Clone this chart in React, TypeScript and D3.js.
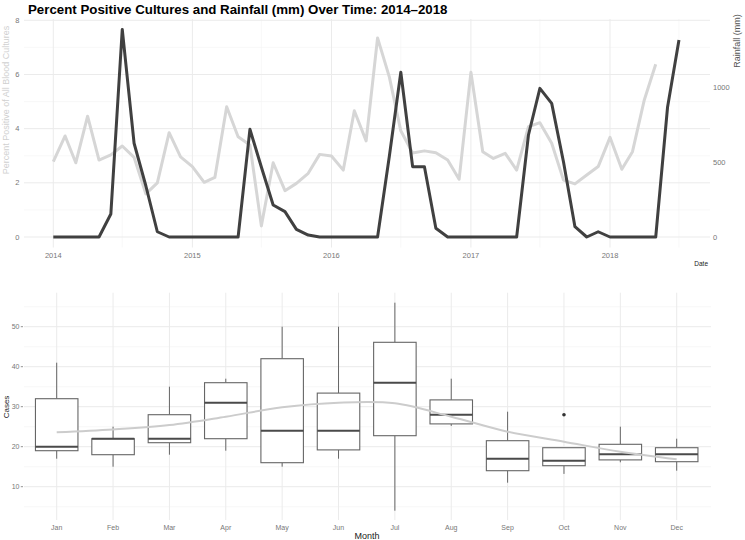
import React from "react";
import * as d3 from "d3";

// ---------- Top panel data ----------
const startYear = 2014;
const percentPositive = [
  2.78, 3.73, 2.74, 4.46, 2.84, 3.03, 3.36, 2.94, 1.59, 2.0, 3.85, 2.96,
  2.6, 2.02, 2.2, 4.81, 3.7, 3.4, 0.41, 2.74, 1.71, 1.98, 2.35, 3.05,
  2.99, 2.47, 4.66, 3.55, 7.35, 5.9, 3.92, 3.1, 3.18, 3.11, 2.84, 2.13,
  6.08, 3.15, 2.9, 3.09, 2.47, 4.07, 4.22, 3.46, 2.1, 1.96, 2.29, 2.6,
  3.68, 2.5, 3.15, 5.06, 6.38,
];
const rainfall = [
  0, 0, 0, 0, 0, 153, 1384, 625, 340, 35, 0, 0,
  0, 0, 0, 0, 0, 718, 467, 213, 169, 51, 13, 0,
  0, 0, 0, 0, 0, 540, 1098, 469, 469, 58, 0, 0,
  0, 0, 0, 0, 0, 680, 991, 891, 500, 69, 0, 35,
  0, 0, 0, 0, 0, 865, 1313,
];
const yearTicks = [2014, 2015, 2016, 2017, 2018];
const pctTicks = [0, 2, 4, 6, 8];
const pctMinor = [1, 3, 5, 7];
const rainTicks = [0, 500, 1000];

// ---------- Bottom panel data ----------
const months = ["Jan", "Feb", "Mar", "Apr", "May", "Jun", "Jul", "Aug", "Sep", "Oct", "Nov", "Dec"];
const whiskerLow = [17, 15, 18, 19, 15, 17, 4, 25.2, 11, 13.2, 16.1, 14];
const q1 = [19, 18, 21, 22, 16, 19.2, 22.75, 25.7, 14, 15.25, 16.7, 16.25];
const medians = [20, 22, 22, 31, 24, 24, 36, 28, 17, 16.5, 18.1, 18.1];
const q3 = [32, 22, 28, 36, 42, 33.4, 46.1, 31.7, 21.5, 19.75, 20.6, 19.75];
const whiskerHigh = [41, 25, 35, 37, 50, 50, 56, 37, 28.75, 19.75, 25, 22];
const outlierMonths = ["Oct"];
const outlierValues = [28];
const smoothValues = [23.6, 24.3, 25.4, 27.5, 29.85, 31, 30.85, 27.5, 23.75, 21.25, 18.75, 16.85];
const casesTicks = [10, 20, 30, 40, 50];
const casesMinor = [5, 15, 25, 35, 45, 55];

const FONT = "'Liberation Sans', Arial, Helvetica, sans-serif";
const GRID = "#ebebeb";
const GRID_MINOR = "#f4f4f4";
const TICK = "#777777";

export default function App() {
  // ---- top scales ----
  const tL = 24, tR = 710, tTop = 19, tBot = 247.5;
  const x = d3.scaleTime().domain([new Date(2014, 0, 1), new Date(2018, 0, 1)]).range([53.3, 610]);
  const yPct = d3.scaleLinear().domain([0, 8]).range([237, 20.3]);
  const yRain = d3.scaleLinear().domain([0, 1000]).range([237, 87]);
  const pctData = percentPositive.map((v, i) => ({ d: new Date(startYear, i, 1), v }));
  const rainData = rainfall.map((v, i) => ({ d: new Date(startYear, i, 1), v }));
  const pctLine = d3.line<{ d: Date; v: number }>().x((p) => x(p.d)).y((p) => yPct(p.v));
  const rainLine = d3.line<{ d: Date; v: number }>().x((p) => x(p.d)).y((p) => yRain(p.v));
  const midYears = [2014, 2015, 2016, 2017, 2018].map((y) => new Date(y, 6, 1));

  // ---- bottom scales ----
  const bL = 24, bR = 711, bTop = 292.7, bBot = 520;
  const xb = d3.scalePoint<string>().domain(months).range([56.7, 676.7]);
  const yb = d3.scaleLinear().domain([0, 10]).range([526.7, 486.7]);
  const boxW = 42.5;
  const smoothLine = d3
    .line<number>()
    .x((_, i) => xb(months[i]) as number)
    .y((v) => yb(v))
    .curve(d3.curveCatmullRom.alpha(0.5));

  return (
    <svg
      width={745}
      height={540}
      viewBox="0 0 745 540"
      style={{ position: "fixed", left: 0, top: 0, background: "#fff", fontFamily: FONT }}
    >
      <rect x={0} y={0} width={745} height={540} fill="#fff" />
      {/* ================= TOP PANEL ================= */}
      <text x={28} y={13.5} fontSize={13.3} fontWeight="bold" fill="#000">
        Percent Positive Cultures and Rainfall (mm) Over Time: 2014–2018
      </text>
      {/* minor grid */}
      {pctMinor.map((t) => (
        <line key={"pm" + t} x1={tL} x2={tR} y1={yPct(t)} y2={yPct(t)} stroke={GRID_MINOR} strokeWidth={0.6} />
      ))}
      {midYears.map((d, i) => (
        <line key={"xm" + i} x1={x(d)} x2={x(d)} y1={tTop} y2={tBot} stroke={GRID_MINOR} strokeWidth={0.6} />
      ))}
      {/* major grid */}
      {pctTicks.map((t) => (
        <line key={"p" + t} x1={tL} x2={tR} y1={yPct(t)} y2={yPct(t)} stroke={GRID} strokeWidth={1} />
      ))}
      {yearTicks.map((yr) => (
        <line key={"x" + yr} x1={x(new Date(yr, 0, 1))} x2={x(new Date(yr, 0, 1))} y1={tTop} y2={tBot} stroke={GRID} strokeWidth={1} />
      ))}
      {/* lines */}
      <path d={pctLine(pctData) || ""} fill="none" stroke="#d6d6d6" strokeWidth={3} strokeLinejoin="round" />
      <path d={rainLine(rainData) || ""} fill="none" stroke="#404040" strokeWidth={3} strokeLinejoin="round" />
      {/* left ticks */}
      {pctTicks.map((t) => (
        <text key={"pl" + t} x={19.5} y={yPct(t)} dy="0.35em" textAnchor="end" fontSize={7.5} fill={TICK}>
          {t}
        </text>
      ))}
      {/* right ticks */}
      {rainTicks.map((t) => (
        <text key={"rl" + t} x={713} y={yRain(t)} dy="0.35em" textAnchor="start" fontSize={7.5} fill={TICK}>
          {t}
        </text>
      ))}
      {/* x ticks */}
      {yearTicks.map((yr) => (
        <text key={"xl" + yr} x={x(new Date(yr, 0, 1))} y={255} dy="0.35em" textAnchor="middle" fontSize={7.5} fill={TICK}>
          {yr}
        </text>
      ))}
      <text x={708} y={265.5} textAnchor="end" fontSize={6.5} fill="#222">
        Date
      </text>
      <text transform="translate(9,100) rotate(-90)" textAnchor="middle" fontSize={9} fill="#d0d0d0">
        Percent Positive of All Blood Cultures
      </text>
      <text transform="translate(740,41) rotate(-90)" textAnchor="middle" fontSize={9} fill="#555">
        Rainfall (mm)
      </text>

      {/* ================= BOTTOM PANEL ================= */}
      {casesMinor.map((t) => (
        <line key={"cm" + t} x1={bL} x2={bR} y1={yb(t)} y2={yb(t)} stroke={GRID_MINOR} strokeWidth={0.6} />
      ))}
      {casesTicks.map((t) => (
        <line key={"c" + t} x1={bL} x2={bR} y1={yb(t)} y2={yb(t)} stroke={GRID} strokeWidth={1} />
      ))}
      {months.map((m) => (
        <line key={"mg" + m} x1={xb(m)} x2={xb(m)} y1={bTop} y2={bBot} stroke={GRID} strokeWidth={1} />
      ))}
      {/* boxes */}
      {months.map((m, i) => {
        const cx = xb(m) as number;
        return (
          <g key={"box" + m}>
            <line x1={cx} x2={cx} y1={yb(q3[i])} y2={yb(whiskerHigh[i])} stroke="#666" strokeWidth={1} />
            <line x1={cx} x2={cx} y1={yb(q1[i])} y2={yb(whiskerLow[i])} stroke="#666" strokeWidth={1} />
            <rect
              x={cx - boxW / 2}
              y={yb(q3[i])}
              width={boxW}
              height={Math.max(0.5, yb(q1[i]) - yb(q3[i]))}
              fill="#fff"
              stroke="#666"
              strokeWidth={1.1}
            />
            <line x1={cx - boxW / 2} x2={cx + boxW / 2} y1={yb(medians[i])} y2={yb(medians[i])} stroke="#4a4a4a" strokeWidth={2} />
          </g>
        );
      })}
      {outlierMonths.map((m, i) => (
        <circle key={"o" + m} cx={xb(m)} cy={yb(outlierValues[i])} r={1.8} fill="#333" />
      ))}
      <path d={smoothLine(smoothValues) || ""} fill="none" stroke="#cccccc" strokeWidth={2} />
      {/* y ticks */}
      {casesTicks.map((t) => (
        <g key={"ct" + t}>
          <text x={19.5} y={yb(t)} dy="0.35em" textAnchor="end" fontSize={7} fill={TICK}>
            {t}
          </text>
          <line x1={20.8} x2={23} y1={yb(t)} y2={yb(t)} stroke={TICK} strokeWidth={0.8} />
        </g>
      ))}
      {months.map((m) => (
        <text key={"ml" + m} x={xb(m)} y={527.5} dy="0.35em" textAnchor="middle" fontSize={7} fill={TICK}>
          {m}
        </text>
      ))}
      <text x={367} y={538.5} textAnchor="middle" fontSize={9} fill="#222">
        Month
      </text>
      <text transform="translate(9,407) rotate(-90)" textAnchor="middle" fontSize={8} fill="#222">
        Cases
      </text>
    </svg>
  );
}
